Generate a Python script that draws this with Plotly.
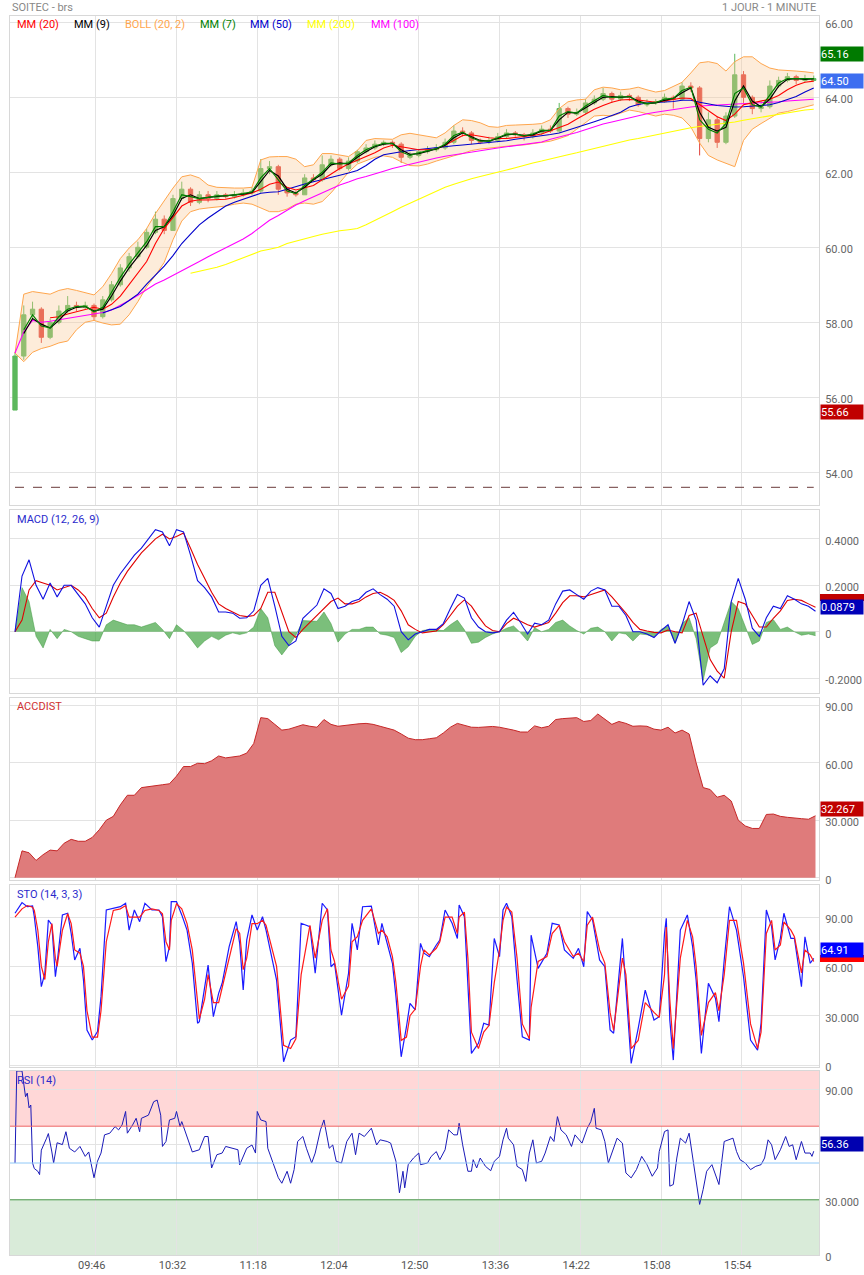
import plotly.graph_objects as go
import pandas as pd

# ---------------- DATA ----------------
BASE = "2024-01-15 09:00"
STEP_MAIN = 5      # minutes between main-panel samples
STEP_IND = 4       # minutes between MACD / ACCDIST samples

OPEN = [55.66,57.10,58.20,58.35,57.60,58.00,58.30,58.45,58.40,58.45,
        58.15,58.60,59.00,59.45,59.75,60.00,60.40,60.75,60.45,61.30,
        61.55,61.20,61.40,61.30,61.40,61.35,61.40,61.45,61.50,62.10,
        62.15,61.55,61.45,61.40,61.85,61.80,62.20,62.35,62.10,62.30,
        62.55,62.65,62.75,62.80,62.75,62.40,62.45,62.55,62.60,62.65,
        62.80,63.10,63.05,62.85,62.80,62.85,62.95,63.05,63.00,62.95,
        63.05,63.15,63.10,63.70,63.55,63.60,63.85,63.95,64.10,63.95,
        64.05,64.00,63.80,63.85,63.88,64.00,63.95,64.30,64.25,62.90,
        63.40,62.80,63.50,64.60,64.00,63.70,63.75,64.30,64.45,64.55,
        64.45,64.45]
HIGH = [57.20,58.45,58.55,58.40,58.10,58.45,58.70,58.55,58.55,58.50,
        58.70,59.10,59.55,59.85,60.15,60.50,60.95,60.85,61.40,61.75,
        61.60,61.50,61.50,61.50,61.45,61.50,61.55,61.60,62.35,62.30,
        62.20,61.60,61.50,61.95,61.95,62.45,62.45,62.40,62.40,62.60,
        62.75,62.85,62.85,62.85,62.80,62.55,62.60,62.70,62.75,62.90,
        63.25,63.20,63.10,62.90,62.95,63.05,63.15,63.10,63.05,63.15,
        63.25,63.25,63.85,63.75,63.70,63.95,64.05,64.25,64.15,64.15,
        64.10,64.05,63.95,63.95,64.10,64.05,64.40,64.40,64.30,63.60,
        63.50,63.60,65.16,64.70,64.05,63.90,64.45,64.55,64.65,64.60,
        64.60,64.58]
LOW = [55.66,57.00,58.05,57.45,57.55,57.95,58.25,58.30,58.35,58.05,
       58.10,58.55,58.95,59.35,59.70,59.95,60.35,60.35,60.45,61.25,
       61.10,61.15,61.20,61.25,61.30,61.30,61.35,61.40,61.45,61.95,
       61.40,61.35,61.35,61.40,61.75,61.75,62.15,62.05,62.05,62.25,
       62.50,62.60,62.70,62.65,62.25,62.35,62.40,62.50,62.55,62.60,
       62.75,62.95,62.75,62.75,62.75,62.80,62.90,62.95,62.85,62.90,
       63.00,63.05,63.05,63.45,63.50,63.55,63.80,63.90,63.85,63.90,
       63.90,63.75,63.75,63.80,63.85,63.70,63.90,64.15,62.45,62.80,
       62.65,62.75,63.45,63.85,63.55,63.60,63.70,64.25,64.40,64.35,
       64.40,64.42]
CLOSE = [57.10,58.20,58.35,57.60,58.00,58.30,58.45,58.40,58.45,58.15,
         58.60,59.00,59.45,59.75,60.00,60.40,60.75,60.45,61.30,61.55,
         61.20,61.40,61.30,61.40,61.35,61.40,61.45,61.50,62.10,62.15,
         61.55,61.45,61.40,61.85,61.80,62.20,62.35,62.10,62.30,62.55,
         62.65,62.75,62.80,62.75,62.40,62.45,62.55,62.60,62.65,62.80,
         63.10,63.05,62.85,62.80,62.85,62.95,63.05,63.00,62.95,63.05,
         63.15,63.10,63.70,63.55,63.60,63.85,63.95,64.10,63.95,64.05,
         64.00,63.80,63.85,63.88,64.00,63.95,64.30,64.25,62.90,63.40,
         62.80,63.50,64.60,64.00,63.70,63.75,64.30,64.45,64.55,64.45,
         64.50,64.50]

BOLL_UP = [57.18,58.75,58.82,58.78,58.75,58.85,58.90,58.85,58.78,58.73,
           58.95,59.30,59.70,59.98,60.20,60.50,60.90,61.25,61.58,61.88,
           61.93,61.85,61.66,61.60,61.58,61.58,61.58,61.60,62.33,62.41,
           62.42,62.42,62.35,62.15,62.20,62.50,62.50,62.45,62.42,62.58,
           62.85,62.90,62.88,62.88,63.00,63.04,63.00,62.95,62.92,63.05,
           63.25,63.40,63.38,63.32,63.22,63.20,63.25,63.26,63.26,63.28,
           63.30,63.40,63.70,63.88,63.93,63.95,64.20,64.27,64.25,64.20,
           64.22,64.27,64.20,64.14,64.18,64.28,64.40,64.65,64.92,64.95,
           64.90,64.70,64.95,65.08,65.08,64.90,64.78,64.73,64.72,64.70,
           64.68,64.65]
BOLL_LO = [57.18,56.95,57.20,57.30,57.36,57.45,57.50,57.80,58.00,58.05,
           57.98,57.93,57.95,58.20,58.55,58.95,59.25,59.60,60.20,60.70,
           60.95,61.02,61.05,61.07,61.10,61.15,61.18,61.15,61.05,60.95,
           60.95,61.02,61.15,61.18,61.15,61.22,61.45,61.72,62.00,62.22,
           62.32,62.40,62.44,62.40,62.28,62.18,62.17,62.22,62.30,62.38,
           62.44,62.50,62.58,62.62,62.65,62.67,62.70,62.72,62.73,62.76,
           62.80,62.83,62.90,62.98,63.15,63.32,63.50,63.52,63.50,63.58,
           63.66,63.62,63.55,63.50,63.55,63.52,63.45,63.21,62.78,62.45,
           62.33,62.25,62.15,62.85,63.15,63.30,63.45,63.58,63.62,63.68,
           63.75,63.80]

MA7_START = 5
MA7 = [57.80,58.20,57.90,57.85,58.15,58.35,58.42,58.43,58.28,58.40,
       58.80,59.20,59.55,59.85,60.15,60.55,60.55,60.95,61.40,61.35,
       61.30,61.33,61.37,61.37,61.39,61.43,61.48,61.85,62.10,61.80,
       61.50,61.43,61.65,61.82,62.00,62.25,62.22,62.25,62.45,62.60,
       62.70,62.77,62.77,62.55,62.45,62.52,62.58,62.63,62.75,62.98,
       63.07,62.92,62.83,62.83,62.92,63.02,63.02,62.97,63.02,63.12,
       63.12,63.50,63.62,63.58,63.77,63.92,64.05,64.00,64.02,64.02,
       63.87,63.83,63.86,63.95,63.97,64.18,64.27,63.40,63.15,63.05,
       63.30,64.10,64.25,63.80,63.74,64.05,64.38,64.50,64.50,64.48,
       64.50]
MA9_START = 5
MA9 = [57.70,58.10,57.95,57.85,58.05,58.30,58.40,58.42,58.30,58.35,
       58.70,59.10,59.45,59.75,60.05,60.45,60.55,60.85,61.30,61.40,
       61.30,61.33,61.35,61.37,61.38,61.42,61.46,61.75,62.05,61.90,
       61.55,61.45,61.60,61.80,61.95,62.20,62.25,62.22,62.40,62.55,
       62.68,62.75,62.77,62.60,62.48,62.50,62.57,62.62,62.72,62.92,
       63.05,62.95,62.85,62.83,62.90,63.00,63.02,62.98,63.00,63.10,
       63.12,63.40,63.60,63.58,63.72,63.88,64.00,64.02,64.00,64.02,
       63.90,63.83,63.85,63.92,63.97,64.12,64.25,63.60,63.20,63.10,
       63.20,63.90,64.30,63.90,63.75,63.95,64.30,64.48,64.50,64.48,
       64.49]
MA20_START = 20
MA20 = [58.12,58.15,58.22,58.28,58.36,58.40,58.35,58.48,58.70,59.00,
        59.30,59.62,60.10,60.50,60.80,61.10,61.23,61.27,61.26,61.27,
        61.28,61.33,61.40,61.45,61.55,61.68,61.74,61.60,61.53,61.58,
        61.65,61.80,61.95,62.10,62.22,62.32,62.42,62.52,62.65,62.72,
        62.68,62.63,62.60,62.60,62.62,62.72,62.85,62.98,63.00,62.95,
        62.92,62.90,62.90,62.93,62.95,62.98,63.02,63.10,63.18,63.28,
        63.42,63.55,63.68,63.78,63.87,63.93,63.94,63.93,63.90,63.87,
        63.90,63.95,63.98,63.97,63.80,63.65,63.48,63.38,63.55,63.80,
        63.85,63.88,63.95,64.05,64.20,64.32,64.40,64.43]
MA50_START = 50
MA50 = [58.25,58.33,58.42,58.58,58.75,59.02,59.25,59.50,59.78,60.10,
        60.35,60.60,60.78,60.93,61.10,61.20,61.28,61.37,61.44,61.47,
        61.48,61.55,61.63,61.69,61.75,61.80,61.86,61.92,61.98,62.05,
        62.18,62.35,62.47,62.52,62.55,62.58,62.61,62.64,62.66,62.68,
        62.71,62.73,62.75,62.76,62.78,62.81,62.84,62.88,62.91,62.94,
        62.97,63.01,63.05,63.12,63.19,63.27,63.35,63.43,63.52,63.60,
        63.74,63.81,63.85,63.86,63.87,63.89,63.92,63.92,63.87,63.82,
        63.78,63.76,63.74,63.75,63.76,63.77,63.80,63.86,63.93,64.02,
        64.14,64.25]
MA100_START = 0
MA100 = [57.18,57.75,58.05,58.00,58.03,58.07,58.11,58.15,58.19,58.23,
         58.26,58.33,58.45,58.58,58.72,58.87,59.02,59.13,59.25,59.37,
         59.48,59.62,59.75,59.87,59.99,60.10,60.22,60.37,60.55,60.72,
         60.85,61.00,61.13,61.24,61.35,61.45,61.55,61.66,61.74,61.83,
         61.89,61.95,62.03,62.10,62.16,62.22,62.28,62.33,62.38,62.43,
         62.47,62.51,62.55,62.59,62.62,62.65,62.68,62.71,62.74,62.77,
         62.81,62.88,62.95,63.00,63.06,63.14,63.22,63.29,63.34,63.40,
         63.46,63.52,63.56,63.60,63.64,63.68,63.71,63.74,63.77,63.78,
         63.80,63.81,63.82,63.83,63.84,63.85,63.87,63.88,63.90,63.92,
         63.94,63.95]
MA200_START = 100
MA200 = [59.31,59.36,59.40,59.47,59.54,59.63,59.73,59.83,59.90,59.95,
         60.00,60.10,60.17,60.23,60.29,60.35,60.40,60.44,60.47,60.50,
         60.60,60.71,60.83,60.95,61.07,61.18,61.29,61.40,61.50,61.60,
         61.68,61.76,61.83,61.89,61.94,62.00,62.06,62.12,62.19,62.25,
         62.30,62.35,62.41,62.47,62.52,62.58,62.64,62.70,62.75,62.80,
         62.86,62.90,62.95,63.00,63.04,63.08,63.13,63.19,63.22,63.25,
         63.28,63.30,63.34,63.39,63.43,63.47,63.52,63.56,63.60,63.63,
         63.66,63.68]
PREV_CLOSE = 53.6

MACD = [0.00,0.24,0.31,0.20,0.14,0.21,0.15,0.20,0.20,0.16,
        0.12,0.06,0.02,0.11,0.20,0.25,0.29,0.33,0.36,0.40,
        0.44,0.43,0.37,0.44,0.43,0.33,0.22,0.19,0.15,0.085,
        0.085,0.08,0.058,0.06,0.09,0.20,0.23,0.11,-0.02,-0.06,
        -0.04,0.058,0.085,0.115,0.185,0.165,0.10,0.11,0.13,0.14,
        0.17,0.185,0.16,0.14,0.11,0.00,-0.035,-0.01,0.00,0.01,
        0.01,0.035,0.10,0.16,0.145,0.06,0.02,0.00,-0.005,0.00,
        0.05,0.083,0.04,-0.01,0.037,0.03,0.05,0.12,0.175,0.18,
        0.16,0.14,0.175,0.19,0.18,0.11,0.11,0.07,0.00,0.00,
        -0.01,-0.025,0.005,0.03,-0.05,0.03,0.13,0.05,-0.23,-0.19,
        -0.22,-0.16,0.13,0.23,0.14,0.015,-0.02,0.06,0.11,0.10,
        0.155,0.14,0.12,0.11,0.088]
SIGNAL = [0.00,0.05,0.18,0.22,0.21,0.20,0.18,0.19,0.20,0.18,
          0.15,0.10,0.06,0.08,0.15,0.21,0.26,0.30,0.34,0.37,
          0.40,0.42,0.40,0.41,0.425,0.36,0.29,0.23,0.17,0.12,
          0.10,0.085,0.07,0.065,0.07,0.10,0.17,0.17,0.08,0.00,
          -0.025,0.01,0.04,0.07,0.10,0.13,0.145,0.12,0.12,0.13,
          0.15,0.165,0.17,0.155,0.135,0.09,0.03,0.01,-0.005,0.00,
          0.003,0.03,0.07,0.11,0.137,0.11,0.065,0.025,0.005,0.00,
          0.035,0.058,0.045,0.03,0.02,0.03,0.04,0.08,0.125,0.155,
          0.155,0.15,0.16,0.17,0.18,0.15,0.115,0.08,0.04,0.01,
          0.003,-0.003,-0.005,0.007,0.00,-0.005,0.07,0.08,-0.02,-0.12,
          -0.17,-0.20,0.00,0.13,0.12,0.07,0.02,0.02,0.058,0.09,
          0.135,0.14,0.135,0.12,0.105]

ACCDIST = [0,14,13,9,12,14.4,14,18,20,19,
           19,21,25,30,32,38,43,43,47,47.6,
           48,48.5,49,53,58,58,59.7,59.5,61,63.5,
           62.5,63,63.5,65,70,83.5,83,80,77,77.5,
           78.5,79.8,79,78.5,82.5,80,79,79.5,80,80.3,
           80.5,80,79,78,77,75,72.8,72,72,72.5,
           73,75.5,78.5,80.5,79.5,78.5,78.4,78.6,78.9,78.5,
           77.8,77,76,76,79.2,78.2,79,82.5,83,83.3,
           83.5,81.5,82,85.4,82.5,80,81.5,80.5,79,79.2,
           79,77.5,77,78.5,75.5,77,75,60,47,46,
           42,43,40,30,27,25.7,25.7,33,33.2,32,
           31.5,31.3,30.8,30.5,32.3]

STO_T = [0,4,7,10,11,13,15,17,19,21,23,24,27,30,32,34,37,39,41,44,
         47,49,52,56,60,63,65,68,71,74,78,82,84,86,88,89,92,95,98,101,
         104,105,108,110,113,116,118,122,126,128,130,132,135,138,141,143,149,153,157,160,
         163,168,171,175,178,180,182,186,190,192,195,198,203,207,209,212,215,217,220,223,
         225,228,231,233,236,240,242,245,249,252,253,256,258,260,264,267,270,273,276,278,
         280,283,286,289,293,294,298,303,306,310,313,318,321,324,326,329,333,336,339,341,
         346,348,351,355,359,364,367,370,371,373,375,379,383,386,388,391,395,399,401,404,
         407,411,415,419,423,425,428,431,433,436,438,442,444,448,450,453,455]
STO_K = [92.3,98.8,96.3,96.7,90.2,72,47.7,55.8,88.2,85.2,53.7,61.9,91.3,92.3,80,63.9,71,51.7,21.3,15.2,
         20.3,41.6,94.3,95.3,96.3,98.4,82.1,94.3,87.2,98.4,94.3,94.3,90.2,62.9,72,99.4,99.4,91.3,82.1,61.9,
         25.4,26.4,47.7,60.8,29.4,43.6,49.7,72,87.2,74,45.6,76,91.3,82.1,90.2,82.1,51.7,2,15.2,17.2,
         86.2,84.2,55.8,98.4,94.3,59.8,61.9,30.4,55.8,86.2,70,96.3,96.7,73,86.2,74,61.9,41.6,5,23.3,
         37.5,33.5,74,68,65.9,73,76,94.3,86.2,77,97.3,90.2,51.7,7.1,13.2,25.4,24.3,77,65.9,94.3,
         98.4,90.2,51.7,17.2,15.2,79,58.8,68,86.2,85.2,70,64.9,71,59.8,93.3,88.2,63.9,59.8,21.3,19.3,
         77,47.7,1,22.3,45.6,27.4,29.4,80.1,89.2,27.4,3,82.1,91.3,72,51.7,7.1,49.7,40.6,26.4,63.9,
         96.3,82.1,53.7,15.2,9.1,25.4,94.3,84.2,63.9,77,92.3,77,77,47.7,78,61.9,64.9]
STO_D = [90,95,97,96,94,82,60,52,75,86,65,60,82,92,86,70,68,60,33,17,
         17,33,75,94,95,97,90,90,90,94,95,94,92,75,70,88,98,95,86,70,
         35,28,40,55,38,38,47,65,83,80,58,65,86,86,88,85,60,12,10,16,
         55,85,65,88,95,70,63,40,48,75,78,88,95,80,82,78,66,50,15,17,
         30,34,60,70,67,71,75,90,90,80,90,93,65,20,10,20,24,50,70,88,
         96,93,65,25,16,35,63,66,80,85,75,66,68,63,85,90,70,62,32,21,
         65,55,10,15,38,32,29,55,84,40,10,65,88,78,60,18,38,44,33,55,
         88,88,62,25,10,20,80,88,70,73,87,82,78,56,70,67,63]

RSI_T = [0,1,4,5,6,7,8,9,10,11,13,14,15,18,19,21,22,24,27,29,
         31,34,37,40,42,45,47,49,51,54,57,59,61,63,64,67,69,71,72,76,
         79,81,83,84,86,88,91,92,94,95,98,100,101,105,108,110,112,115,118,120,
         124,127,128,132,135,137,138,140,143,144,147,150,152,155,157,159,161,164,166,169,
         171,174,176,179,181,183,186,189,192,194,196,199,203,206,208,212,214,217,219,221,
         222,224,227,230,231,235,237,240,242,245,247,250,252,253,255,256,258,260,261,263,
         265,268,271,273,276,278,280,281,284,286,289,291,293,295,297,300,302,305,307,309,
         311,314,317,319,323,326,328,330,331,334,336,338,340,343,346,348,351,354,357,360,
         363,366,367,370,372,373,375,377,379,382,384,386,388,390,392,394,397,399,401,404,
         409,411,413,416,419,422,425,427,429,431,433,436,439,441,443,445,448,450,453,454,455]
RSI_V = [50,100,100,92,86,88,80,81.5,50,47,45.5,43.7,57,63.5,66,56,50,61,60,67,
         58,56,59,53.6,56,42,51,55.4,65.3,66.2,69.8,68,70.7,78,66.2,70.7,74.3,67,74.3,76,
         83.3,84.2,76,59,61.7,73.4,74.3,78,69.8,72.5,64.4,59,56,57.2,64.4,64.4,47.3,54.5,55.4,59,
         58,57.2,49,58,59.8,55.4,78,73.4,72.5,58,50,42,39,45.5,39,46.4,61.7,64.4,58,50,
         55.4,68,73.4,58,59.8,50.9,50,61.7,66.2,54.5,66.2,64.4,68.9,59.8,62.6,61.7,60.8,50.9,33.8,45.5,
         36.5,49.1,52.7,55.4,49.1,50,53.5,56.2,51.8,57.2,68,65.3,65.3,71.6,59.9,55.4,45.5,45.5,51.8,47.3,
         52.7,48.2,45.8,50.9,53.6,62.6,68.9,63.5,59.9,48.2,46.4,40,55.4,62.6,50,50.9,55.4,64.4,61.7,75.2,
         68,65.3,59,65.3,60.8,68.9,72.5,79.7,68.9,68,61.7,50,55.4,63.5,60.8,44.6,41.9,46.4,53.6,49.1,
         42.8,47.3,56.3,67.1,68,37.4,38.3,52.7,63.5,60.8,66.2,53.6,41.9,27.5,35.6,45.5,49.1,43.7,38.3,61.7,
         63.5,56.3,51.8,50,46.4,48.2,49.1,52.7,62.6,59.9,51.8,57.2,64.4,59,59.9,51.8,61.7,55.4,55.4,53.6,56.4]

TIME_TICKS = ["09:46", "10:32", "11:18", "12:04", "12:50", "13:36", "14:22", "15:08", "15:54"]
LAST = {"high": "65.16", "close": "64.50", "low": "55.66", "macd": "0.0879",
        "accdist": "32.267", "sto": "64.91", "rsi": "56.36"}

# ---------------- HELPERS ----------------
base = pd.Timestamp(BASE)
def at(mins):
    return [base + pd.Timedelta(minutes=m) for m in mins]
def grid(start, step, n):
    return at([start + step * i for i in range(n)])

FONT = "Roboto, Arial, sans-serif"
GRID = "#e3e3e3"
H_TOP, H_BOT, H = 16, 1255, 1239
PLOT_L, PLOT_W = 10, 809
def dom(top, bot):
    return [(H_BOT - bot) / H, (H_BOT - top) / H]
def py(pix):
    return (H_BOT - pix) / H
def px(pix):
    return (pix - PLOT_L) / PLOT_W

x_main = grid(0, STEP_MAIN, len(CLOSE))
x_ind = grid(0, STEP_IND, len(MACD))

fig = go.Figure()

# ---- main panel ----
fig.add_trace(go.Scatter(x=x_main, y=BOLL_LO, mode="lines", line=dict(color="#ffa64d", width=1),
                         xaxis="x", yaxis="y", hoverinfo="skip"))
fig.add_trace(go.Scatter(x=x_main, y=BOLL_UP, mode="lines", line=dict(color="#ffa64d", width=1),
                         fill="tonexty", fillcolor="rgba(250,200,150,0.35)",
                         xaxis="x", yaxis="y", hoverinfo="skip"))
fig.add_trace(go.Scatter(x=grid(MA200_START, STEP_MAIN, len(MA200)), y=MA200, mode="lines",
                         line=dict(color="#ffff00", width=1.1), xaxis="x", yaxis="y"))
fig.add_trace(go.Scatter(x=grid(MA100_START, STEP_MAIN, len(MA100)), y=MA100, mode="lines",
                         line=dict(color="#ff00ff", width=1.1), xaxis="x", yaxis="y"))
fig.add_trace(go.Scatter(x=grid(MA50_START, STEP_MAIN, len(MA50)), y=MA50, mode="lines",
                         line=dict(color="#0000cc", width=1.1), xaxis="x", yaxis="y"))
fig.add_trace(go.Candlestick(x=x_main, open=OPEN, high=HIGH, low=LOW, close=CLOSE,
                             increasing=dict(fillcolor="#5cb85c", line=dict(color="#5cb85c", width=1)),
                             decreasing=dict(fillcolor="#e0403a", line=dict(color="#e0403a", width=1)),
                             whiskerwidth=0, xaxis="x", yaxis="y"))
fig.add_trace(go.Scatter(x=grid(MA20_START, STEP_MAIN, len(MA20)), y=MA20, mode="lines",
                         line=dict(color="#ff0000", width=1.1), xaxis="x", yaxis="y"))
fig.add_trace(go.Scatter(x=grid(MA9_START, STEP_MAIN, len(MA9)), y=MA9, mode="lines",
                         line=dict(color="#000000", width=1.2), xaxis="x", yaxis="y"))
fig.add_trace(go.Scatter(x=grid(MA7_START, STEP_MAIN, len(MA7)), y=MA7, mode="lines",
                         line=dict(color="#008000", width=1.2), xaxis="x", yaxis="y"))

# ---- MACD ----
hist = [m - s for m, s in zip(MACD, SIGNAL)]
fig.add_trace(go.Scatter(x=x_ind, y=hist, mode="lines", fill="tozeroy",
                         fillcolor="rgba(60,160,60,0.68)", line=dict(color="rgba(60,150,60,0.8)", width=0.6),
                         xaxis="x2", yaxis="y2"))
fig.add_trace(go.Scatter(x=x_ind, y=SIGNAL, mode="lines", line=dict(color="#e00000", width=1.1),
                         xaxis="x2", yaxis="y2"))
fig.add_trace(go.Scatter(x=x_ind, y=MACD, mode="lines", line=dict(color="#1010e0", width=1.1),
                         xaxis="x2", yaxis="y2"))

# ---- ACCDIST ----
fig.add_trace(go.Scatter(x=x_ind, y=ACCDIST, mode="lines", fill="tozeroy", fillcolor="#df7b7b",
                         line=dict(color="#c62828", width=1), xaxis="x3", yaxis="y3"))

# ---- STO ----
fig.add_trace(go.Scatter(x=at(STO_T), y=STO_K, mode="lines", line=dict(color="#1a1aff", width=1.2),
                         xaxis="x4", yaxis="y4"))
fig.add_trace(go.Scatter(x=at(STO_T), y=STO_D, mode="lines", line=dict(color="#ff1a1a", width=1.2),
                         xaxis="x4", yaxis="y4"))

# ---- RSI ----
fig.add_trace(go.Scatter(x=at(RSI_T), y=RSI_V, mode="lines", line=dict(color="#1a1ab8", width=1),
                         xaxis="x5", yaxis="y5"))

# ---------------- AXES ----------------
tick_x = [base.normalize() + pd.Timedelta(hours=int(t[:2]), minutes=int(t[3:])) for t in TIME_TICKS]
x_range = [base - pd.Timedelta(minutes=2.85), base + pd.Timedelta(minutes=458.0)]

panels = [
    dict(dom=dom(16, 505), rng=[53.128, 66.168], tv=[54, 56, 58, 60, 62, 64, 66],
         tt=["54.00", "56.00", "58.00", "60.00", "62.00", "64.00", "66.00"]),
    dict(dom=dom(510, 693), rng=[-0.2642, 0.5246], tv=[-0.2, 0, 0.2, 0.4],
         tt=["-0.2000", "0", "0.2000", "0.4000"]),
    dict(dom=dom(698, 880), rng=[-1.2, 93.75], tv=[0, 30, 60, 90],
         tt=["0", "30.000", "60.00", "90.00"]),
    dict(dom=dom(885, 1067), rng=[-1.2, 109.5], tv=[0, 30, 60, 90],
         tt=["0", "30.000", "60.00", "90.00"]),
    dict(dom=dom(1071, 1255), rng=[0, 100], tv=[0, 30, 60, 90],
         tt=["0", "30.000", "", "90.00"]),
]

layout = dict(width=864, height=1275, margin=dict(l=10, r=45, t=16, b=20, autoexpand=False),
              paper_bgcolor="white", plot_bgcolor="white", showlegend=False,
              font=dict(family=FONT, size=11, color="#666"))
for i, p in enumerate(panels, start=1):
    sx = "" if i == 1 else str(i)
    layout["xaxis" + sx] = dict(domain=[0, 1], anchor="y" + sx, type="date", range=x_range,
                                tickvals=tick_x, tickformat="%H:%M", showgrid=True, gridcolor=GRID,
                                showticklabels=(i == 5), ticks="", showline=True, mirror=True,
                                linecolor="#d8d8d8", linewidth=1, zeroline=False, automargin=False,
                                rangeslider=dict(visible=False), ticklabelshift=-4,
                                tickfont=dict(size=11, color="#555"))
    layout["yaxis" + sx] = dict(domain=p["dom"], anchor="x" + sx, side="right", range=p["rng"],
                                tickvals=p["tv"], ticktext=p["tt"], showgrid=True, gridcolor=GRID,
                                zeroline=False, ticks="", showline=True, mirror=True, automargin=False,
                                linecolor="#d8d8d8", linewidth=1, ticklabelshift=2,
                                ticklabelstandoff=3, tickfont=dict(size=11, color="#666"))
fig.update_layout(**layout)

# ---------------- SHAPES ----------------
shapes = [
    dict(type="rect", xref="x5 domain", yref="y5", x0=0, x1=1, y0=70, y1=100,
         fillcolor="#ffd7d7", line=dict(width=0), layer="below"),
    dict(type="rect", xref="x5 domain", yref="y5", x0=0, x1=1, y0=0, y1=30,
         fillcolor="#d9ebd9", line=dict(width=0), layer="below"),
    dict(type="line", xref="x5 domain", yref="y5", x0=0, x1=1, y0=70, y1=70,
         line=dict(color="#ee6666", width=1)),
    dict(type="line", xref="x5 domain", yref="y5", x0=0, x1=1, y0=50, y1=50,
         line=dict(color="#90c8f8", width=1)),
    dict(type="line", xref="x5 domain", yref="y5", x0=0, x1=1, y0=30, y1=30,
         line=dict(color="#4a9a4a", width=1)),
    dict(type="line", xref="x", yref="y", x0=x_main[0], x1=x_main[-1], y0=PREV_CLOSE, y1=PREV_CLOSE,
         line=dict(color="#6a3a3a", width=1, dash="dash")),
    # signal-line value markers sitting behind the MACD / STO value boxes
    dict(type="rect", xref="paper", yref="paper", x0=px(820), x1=px(864), y0=py(601), y1=py(594),
         fillcolor="#c00000", line=dict(width=0), layer="above"),
    dict(type="rect", xref="paper", yref="paper", x0=px(820), x1=px(864), y0=py(962), y1=py(955),
         fillcolor="#ff0000", line=dict(width=0), layer="above"),
]
fig.update_layout(shapes=shapes)

# ---------------- ANNOTATIONS ----------------
ann = []
ann.append(dict(text="SOITEC - brs", xref="paper", yref="paper", x=0, y=py(8), xanchor="left",
                yanchor="middle", showarrow=False, font=dict(size=11, color="#888")))
ann.append(dict(text="1 JOUR - 1 MINUTE", xref="paper", yref="paper", x=px(818), y=py(8), xanchor="right",
                yanchor="middle", showarrow=False, font=dict(size=11, color="#888")))
legend_items = [("MM (20)", "#ff0000", 15), ("MM (9)", "#000000", 72), ("BOLL (20, 2)", "#ffa64d", 123),
                ("MM (7)", "#008000", 198), ("MM (50)", "#0000cc", 248), ("MM (200)", "#ffff00", 305),
                ("MM (100)", "#ff00ff", 369)]
for txt, col, xp in legend_items:
    ann.append(dict(text=txt, xref="paper", yref="paper", x=px(xp), y=py(25), xanchor="left",
                    yanchor="middle", showarrow=False, font=dict(size=11, color=col)))
for txt, col, ypx in [("MACD (12, 26, 9)", "#2a2acc", 519), ("ACCDIST", "#d03030", 706),
                      ("STO (14, 3, 3)", "#2a2acc", 894), ("RSI (14)", "#2a2acc", 1080)]:
    ann.append(dict(text=txt, xref="paper", yref="paper", x=px(15), y=py(ypx), xanchor="left",
                    yanchor="middle", showarrow=False, font=dict(size=11, color=col)))

def box(txt, bg, ypx):
    return dict(text=txt, xref="paper", yref="paper", x=px(820), y=py(ypx), xanchor="left",
                yanchor="middle", showarrow=False, bgcolor=bg, borderpad=0, width=42, height=14,
                align="left", font=dict(size=11, color="white"))
ann += [box(LAST["high"], "#007a00", 54), box(LAST["close"], "#3d6ef0", 81), box(LAST["low"], "#c00000", 412),
        box(LAST["macd"], "#0000b8", 607),
        box(LAST["accdist"], "#c00000", 809),
        box(LAST["sto"], "#0000ff", 950),
        box(LAST["rsi"], "#0000b0", 1144)]
fig.update_layout(annotations=ann)

fig.write_html("out.html", config={"displayModeBar": False, "responsive": False},
               post_script="document.body.style.margin='0';document.body.style.overflow='hidden';")
